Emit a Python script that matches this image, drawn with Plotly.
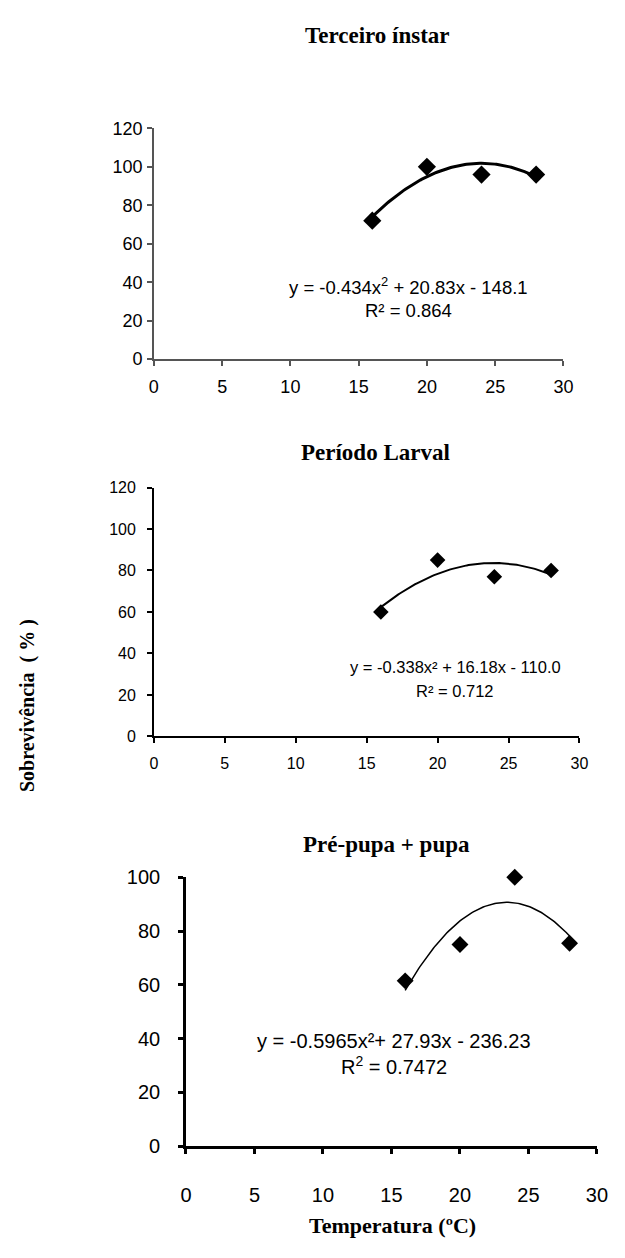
import numpy as np
import plotly.graph_objects as go

W, H = 625, 1258

temps = [16, 20, 24, 28]
terceiro = [72, 100, 96, 96]
larval = [60, 85, 77, 80]
prepupa = [61.5, 75, 100, 75.5]

coef_terceiro = [-0.434, 20.83, -148.1]
coef_larval = [-0.338, 16.18, -110.0]
coef_prepupa = [-0.5965, 27.93, -236.23]

titles = ["Terceiro ínstar", "Período Larval", "Pré-pupa + pupa"]
eq_texts = ["y = -0.434x<sup>2</sup> + 20.83x - 148.1", "y = -0.338x² + 16.18x - 110.0",
            "y = -0.5965x²+ 27.93x - 236.23"]
r2_texts = ["R² = 0.864", "R² = 0.712", "R<sup>2</sup> = 0.7472"]

x_ticks = [0, 5, 10, 15, 20, 25, 30]

# pixel boxes: (x0, x1, ytop, ybottom, ymax)
boxes = [
    (152, 573, 119.5, 354.3, 120),
    (152, 589.5, 485, 738.3, 120),
    (185, 607.5, 881.7, 1155.5, 100),
]
SANS = "Liberation Sans, Arial"
axis_styles = [
    dict(color="#555555", width=1.5, tick_font=18, lw=3, ms=14, xs=6, ys=1),
    dict(color="#000000", width=1.5, tick_font=16, lw=2, ms=12, xs=7, ys=8),
    dict(color="#000000", width=2.5, tick_font=20, lw=1.5, ms=13, xs=24, ys=14),
]

fig = go.Figure()
series = [terceiro, larval, prepupa]
coefs = [coef_terceiro, coef_larval, coef_prepupa]

def px_x(p):
    return p / W

def px_y(p):
    return 1 - p / H

for i in range(3):
    x0, x1, yt, yb, ymax = boxes[i]
    st = axis_styles[i]
    xa = "x" if i == 0 else f"x{i+1}"
    ya = "y" if i == 0 else f"y{i+1}"
    xs = np.linspace(min(temps), max(temps), 100)
    ys = np.polyval(coefs[i], xs)
    fig.add_trace(go.Scatter(x=xs, y=ys, mode="lines", line=dict(color="black", width=st["lw"]),
                             xaxis=xa, yaxis=ya, showlegend=False, hoverinfo="skip", cliponaxis=False))
    fig.add_trace(go.Scatter(x=temps, y=series[i], mode="markers",
                             marker=dict(symbol="diamond", size=st["ms"], color="black"),
                             xaxis=xa, yaxis=ya, showlegend=False, cliponaxis=False))
    xkey = "xaxis" if i == 0 else f"xaxis{i+1}"
    ykey = "yaxis" if i == 0 else f"yaxis{i+1}"
    fig.update_layout(**{
        xkey: dict(domain=[px_x(x0), px_x(x1)], range=[0, 30], anchor=ya,
                   tickvals=x_ticks, showgrid=False, zeroline=False,
                   showline=True, linecolor=st["color"], linewidth=st["width"],
                   ticks="outside", ticklen=5, tickcolor=st["color"], tickwidth=st["width"],
                   tickfont=dict(family=SANS, size=st["tick_font"], color="black"),
                   ticklabelstandoff=st["xs"], fixedrange=True),
        ykey: dict(domain=[px_y(yb), px_y(yt)], range=[0, ymax], anchor=xa,
                   dtick=20, showgrid=False, zeroline=False,
                   showline=True, linecolor=st["color"], linewidth=st["width"],
                   ticks="outside", ticklen=5, tickcolor=st["color"], tickwidth=st["width"],
                   tickfont=dict(family=SANS, size=st["tick_font"], color="black"),
                   ticklabelstandoff=st["ys"], fixedrange=True),
    })

annos = []
title_pos = [(382, 25), (380, 449), (391, 848)]
for t, (x, y) in zip(titles, title_pos):
    annos.append(dict(text=f"<b>{t}</b>", x=px_x(x), y=px_y(y), xref="paper", yref="paper",
                      showarrow=False, xanchor="center", yanchor="middle",
                      font=dict(family="Liberation Serif, Times New Roman", size=23, color="black")))

eq_pos = [(414, 280, 305, 18.5), (462, 668, 692, 16.5), (399, 1048, 1073, 20)]
for i, (x, ye, yr, fs) in enumerate(eq_pos):
    annos.append(dict(text=eq_texts[i], x=px_x(x), y=px_y(ye), xref="paper", yref="paper",
                      showarrow=False, xanchor="center", yanchor="middle",
                      font=dict(family=SANS, size=fs, color="black")))
    annos.append(dict(text=r2_texts[i], x=px_x(x), y=px_y(yr), xref="paper", yref="paper",
                      showarrow=False, xanchor="center", yanchor="middle",
                      font=dict(family=SANS, size=fs, color="black")))

annos.append(dict(text="<b>Temperatura (ºC)</b>", x=px_x(397), y=px_y(1236), xref="paper", yref="paper",
                  showarrow=False, xanchor="center", yanchor="middle",
                  font=dict(family="Liberation Serif, Times New Roman", size=22, color="black")))
annos.append(dict(text="<b>Sobrevivência  ( % )</b>", x=px_x(22), y=px_y(707), xref="paper", yref="paper",
                  showarrow=False, xanchor="center", yanchor="middle", textangle=-90,
                  font=dict(family="Liberation Serif, Times New Roman", size=20, color="black")))

fig.update_layout(width=W, height=H, margin=dict(l=0, r=0, t=0, b=0),
                  paper_bgcolor="white", plot_bgcolor="white", annotations=annos)

fig.write_html("out.html", config={"displayModeBar": False})
